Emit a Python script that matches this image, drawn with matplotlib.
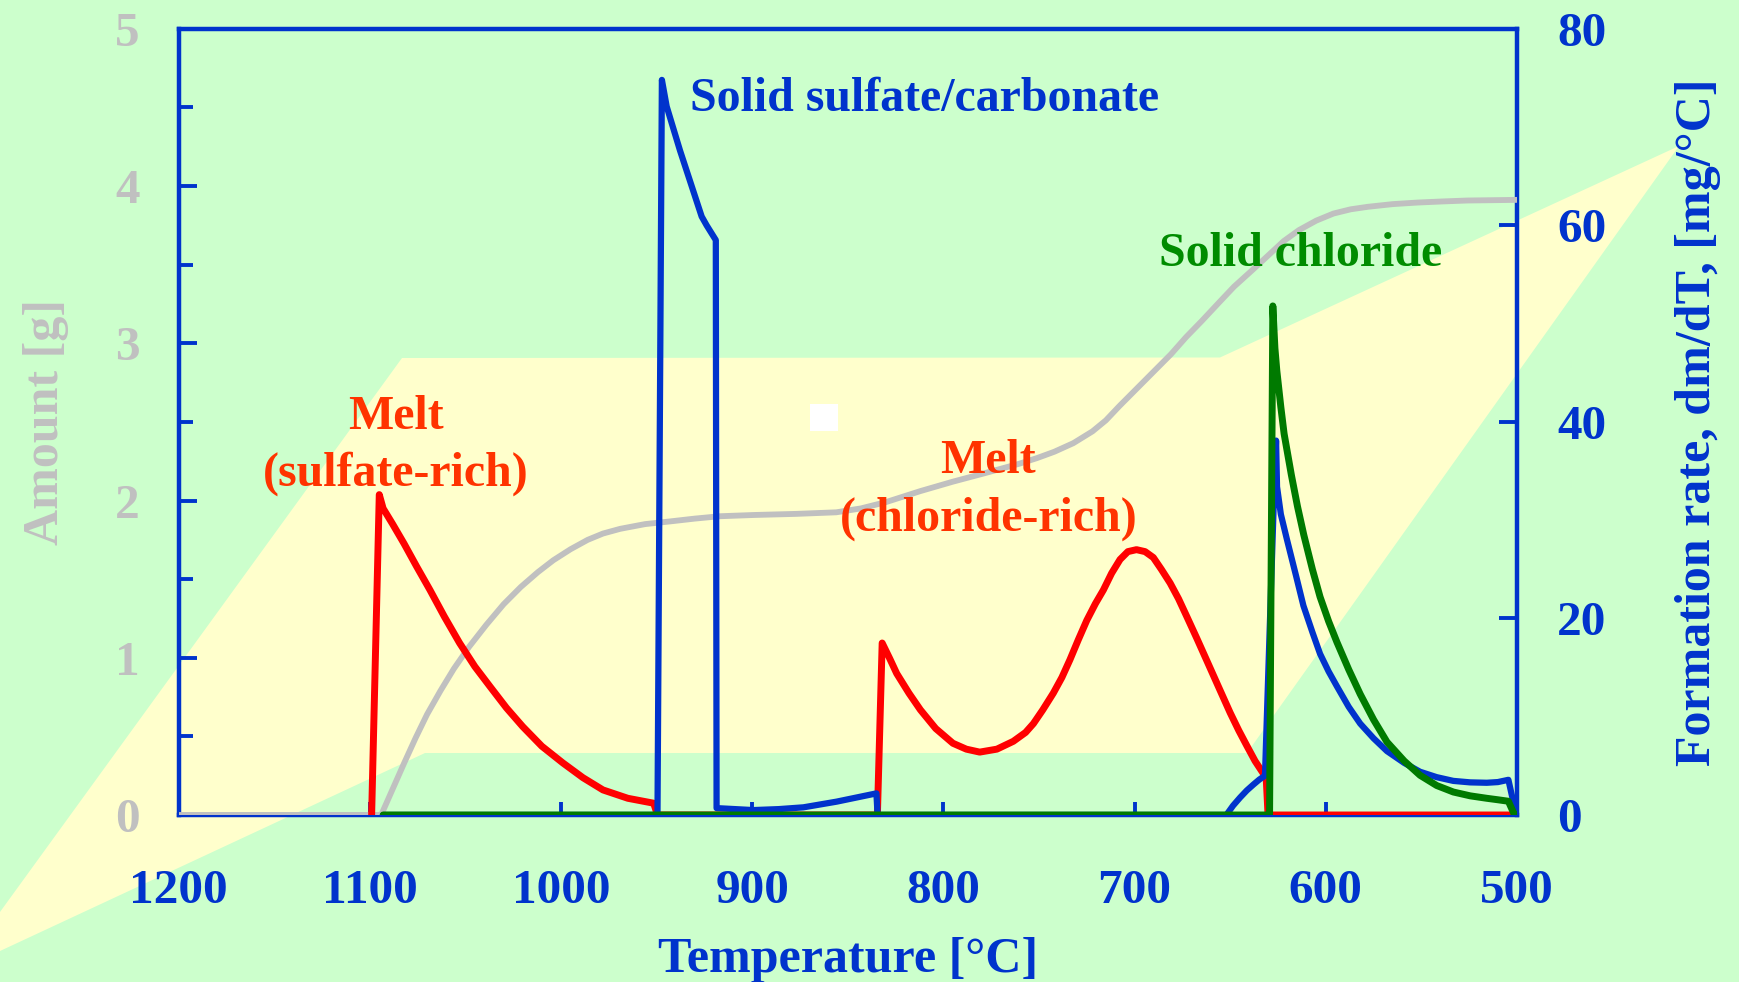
import matplotlib
matplotlib.use("Agg")
import matplotlib.pyplot as plt
from matplotlib.patches import Polygon, Rectangle
from matplotlib.ticker import MultipleLocator

plt.rcParams['font.family'] = ['Liberation Serif', 'DejaVu Serif']
plt.rcParams['font.weight'] = 'bold'
plt.rcParams['axes.labelweight'] = 'bold'

# ---- data -------------------------------------------------------------
# total amount of condensed phases [g] (left axis)
T_amount = [1200, 1094, 1090, 1086, 1082, 1076, 1070, 1063, 1056, 1048, 1039,
            1030, 1021, 1012, 1004, 995, 986, 978, 969, 956, 943, 930, 917,
            899, 877, 856, 843, 830, 812, 795, 778, 760, 751, 742, 732, 722,
            715, 708, 699, 690, 681, 673, 665, 655, 648, 638, 630, 622, 614,
            605, 596, 587, 578, 565, 552, 539, 526, 513, 500]
amount = [0, 0, 0.11, 0.22, 0.33, 0.49, 0.64, 0.79, 0.93, 1.07, 1.21,
          1.34, 1.45, 1.545, 1.62, 1.69, 1.75, 1.79, 1.82, 1.85, 1.867, 1.885,
          1.90, 1.908, 1.915, 1.925, 1.95, 1.99, 2.06, 2.12, 2.175, 2.235,
          2.27, 2.31, 2.365, 2.44, 2.51, 2.60, 2.71, 2.82, 2.93, 3.04, 3.14,
          3.27, 3.36, 3.47, 3.56, 3.65, 3.72, 3.78, 3.825, 3.852, 3.868,
          3.885, 3.895, 3.902, 3.908, 3.91, 3.912]

# formation rates [mg/degC] (right axis)
T_melt = [1099, 1095, 1093, 1088, 1082, 1075.5, 1068.5, 1061, 1053, 1045,
          1037, 1028.5, 1020, 1010, 999, 988.5, 978, 965, 951.5, 949.5,
          834.5, 832, 828, 824.4, 818, 812, 804, 795, 788, 781, 772, 763.4,
          757, 752.9, 748, 742.5, 738, 733.8, 729.5, 725, 720.5, 716.3, 712,
          707.6, 703.5, 699, 694.5, 690.2, 686, 681.4, 677, 672.7, 667.5,
          662.2, 656, 650, 645.5, 641.3, 637, 632.6, 631.2, 630.2, 500]
rate_melt = [0, 32.6, 31.2, 29.6, 27.6, 25.3, 22.9, 20.2, 17.5, 15.1,
             13.05, 10.9, 9.0, 7.0, 5.3, 3.8, 2.55, 1.7, 1.2, 0,
             0, 17.5, 15.9, 14.4, 12.4, 10.7, 8.8, 7.3, 6.7, 6.4, 6.7, 7.5,
             8.4, 9.3, 10.7, 12.4, 14.0, 15.8, 17.8, 19.8, 21.5, 22.9, 24.6,
             26.0, 26.8, 27.0, 26.8, 26.2, 25.0, 23.6, 22.0, 20.2, 18.0,
             15.7, 13.0, 10.4, 8.6, 7.05, 5.5, 4.2, 3.9, 0, 0]

T_sulfate = [1093, 949.5, 947.2, 944.7, 937.7, 926.4, 923.8, 919.0, 918.6,
             899.4, 886, 873.2, 855.8, 835.0, 834.4, 652.0, 648.5, 644.8,
             641.3, 637.9, 634.8, 631.8, 627.0, 626.0, 625.5, 623.5, 620.4,
             615.5, 611.7, 607.0, 603.0, 598.5, 594.2, 588.0, 582.0, 575.0,
             568.0, 559.0, 550.7, 542.0, 533.3, 524.5, 515.8, 510.0, 504.5,
             500.4]
rate_sulfate = [0, 0, 74.8, 72.1, 67.6, 60.9, 60.0, 58.5, 0.7,
                0.5, 0.6, 0.78, 1.36, 2.2, 0, 0, 0.95, 1.78,
                2.5, 3.09, 3.6, 4.0, 33.0, 38.1, 33.4, 30.6, 28.1,
                24.3, 21.3, 18.6, 16.4, 14.6, 13.1, 11.0, 9.3, 7.8,
                6.5, 5.3, 4.4, 3.85, 3.47, 3.32, 3.28, 3.35, 3.58,
                0]

T_chloride = [1093, 629.4, 627.7, 626.6, 625.6, 623.5, 621.8, 618.0, 614.8,
              611.5, 607.0, 603.0, 598.5, 594.2, 588.0, 582.0, 575.0, 568.0,
              559.0, 550.7, 542.0, 533.3, 524.5, 515.8, 510.0, 504.5, 501.3,
              500]
rate_chloride = [0, 0, 51.8, 47.5, 45.2, 41.5, 38.8, 34.6, 31.4,
                 28.5, 25.0, 22.2, 19.7, 17.6, 14.8, 12.3, 9.7, 7.43,
                 5.5, 4.04, 3.0, 2.34, 1.95, 1.7, 1.55, 1.4, 0,
                 0]

x_ticks = [1200, 1100, 1000, 900, 800, 700, 600, 500]
amount_ticks = [0, 1, 2, 3, 4, 5]
rate_ticks = [0, 20, 40, 60, 80]

# ---- styling ----------------------------------------------------------
BLUE = '#0033cc'
GREY = '#c0c0c0'
RED = '#ff0000'
RED_TXT = '#ff3300'
GREEN = '#007a00'
GREEN_TXT = '#008c00'
BG_GREEN = '#ccffcc'
BG_YELLOW = '#ffffcc'

W, H = 1739, 982
fig = plt.figure(figsize=(W / 100, H / 100), dpi=100, facecolor=BG_GREEN)


def fx(px):
    return px / W


def fy(py):
    return 1 - py / H


# decorative background band
band = [(0, 912), (402, 358), (1220, 357.5), (1679, 146), (1247, 753),
        (425, 753), (0, 951)]
fig.add_artist(Polygon([(fx(x), fy(y)) for x, y in band], closed=True,
                       transform=fig.transFigure, facecolor=BG_YELLOW,
                       edgecolor='none', zorder=-2))
fig.add_artist(Rectangle((fx(809.5), fy(431)), 28 / W, 27 / H,
                         transform=fig.transFigure, facecolor='white',
                         edgecolor='none', zorder=-1))

left, right, top, bottom = 178.5, 1517, 28.8, 815
ax = fig.add_axes([fx(left), fy(bottom), (right - left) / W, (bottom - top) / H])
ax.set_facecolor('none')
ax2 = ax.twinx()
ax2.set_facecolor('none')

lw_kw = dict(solid_capstyle='round', solid_joinstyle='round')
ax.plot(T_amount, amount, color=GREY, lw=4.2, zorder=3, **lw_kw)
ax2.plot(T_melt, rate_melt, color=RED, lw=5.0, **lw_kw)
ax2.plot(T_sulfate, rate_sulfate, color=BLUE, lw=4.5, **lw_kw)
ax2.plot(T_chloride, rate_chloride, color=GREEN, lw=5.0, **lw_kw)

ax.set_xlim(1200, 500)
ax.set_ylim(0, 5)
ax2.set_ylim(0, 80)
ax.set_xticks(x_ticks)
ax.set_yticks(amount_ticks)
ax.yaxis.set_minor_locator(MultipleLocator(0.5))
ax2.set_yticks(rate_ticks)

# the frame is drawn once, by the left-hand axes
for s in ax.spines.values():
    s.set_color(BLUE)
    s.set_linewidth(3.2)
for s in ax2.spines.values():
    s.set_visible(False)

ax.tick_params(axis='x', which='major', direction='in', length=9.5, width=2.8,
               color=BLUE, labelcolor=BLUE, labelsize=35.5, pad=39, top=False)
ax.tick_params(axis='y', which='major', direction='in', length=13, width=2.8,
               color=BLUE, labelcolor=GREY, labelsize=35.5, pad=28, right=False)
ax.tick_params(axis='y', which='minor', direction='in', length=10, width=2.8,
               color=BLUE, right=False)
ax2.tick_params(axis='y', which='major', direction='in', length=13, width=2.8,
                color=BLUE, labelcolor=BLUE, labelsize=35.5, pad=29)

ax.set_xlabel('Temperature [°C]', color=BLUE, fontsize=36, va='center')
ax.xaxis.set_label_coords(0.5, -0.1844)
ax.set_ylabel('Amount [g]', color=GREY, fontsize=36, va='center', ha='center')
ax.yaxis.set_label_coords(-0.0991, 0.5)
ax2.set_ylabel('Formation rate, dm/dT, [mg/°C]', color=BLUE, fontsize=36,
               va='center', ha='center', rotation=90)
ax2.yaxis.set_label_coords(1.1352, 0.5)

txt = dict(fontsize=34.5, va='baseline')
ax2.text(932.5, 71.6, 'Solid sulfate/carbonate', color=BLUE, ha='left', **txt)
ax2.text(1086.5, 39.3, 'Melt', color=RED_TXT, ha='center', **txt)
ax2.text(1086.5, 33.5, '(sulfate-rich)', color=RED_TXT, ha='center', **txt)
ax2.text(776.5, 34.8, 'Melt', color=RED_TXT, ha='center', **txt)
ax2.text(776.5, 28.9, '(chloride-rich)', color=RED_TXT, ha='center', **txt)
ax2.text(612.9, 55.85, 'Solid chloride', color=GREEN_TXT, ha='center', **txt)

fig.savefig('out.png', dpi=100, facecolor=BG_GREEN)
